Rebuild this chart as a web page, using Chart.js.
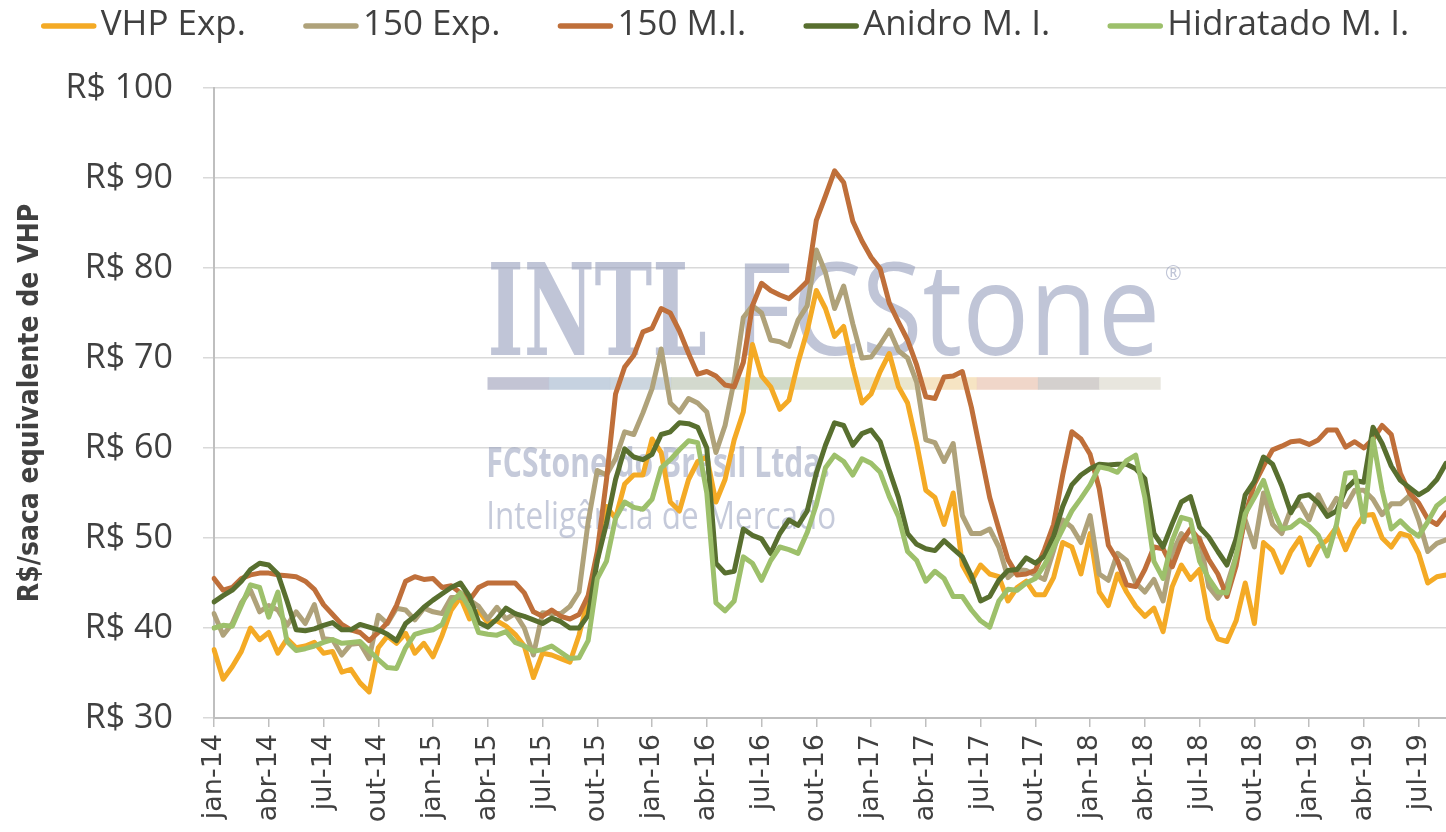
<!DOCTYPE html>
<html>
<head>
<meta charset="utf-8">
<script src="https://cdn.jsdelivr.net/npm/chart.js@4.4.1/dist/chart.umd.min.js"></script>
<style>
  html, body { margin: 0; padding: 0; background: #ffffff; }
  #wrap { width: 1446px; height: 832px; position: relative; }
</style>
</head>
<body>
<div id="wrap"><canvas id="c" width="1446" height="832"></canvas></div>
<script>
// ---- Data (semi-monthly observations, jan-14 .. mid ago-19) ----
const monthNames = ['jan','fev','mar','abr','mai','jun','jul','ago','set','out','nov','dez'];
const tickLabels = ['jan-14','abr-14','jul-14','out-14','jan-15','abr-15','jul-15','out-15',
  'jan-16','abr-16','jul-16','out-16','jan-17','abr-17','jul-17','out-17',
  'jan-18','abr-18','jul-18','out-18','jan-19','abr-19','jul-19'];

const vhpExp = [
  37.6,34.3,35.7,37.4,40,38.7,39.5,37.2,38.8,37.8,38,38.4,
  37.2,37.4,35.1,35.4,33.9,32.9,37.8,39.1,38.3,39.4,37.2,38.3,
  36.8,39.2,42,43.4,41,41.9,40.6,40.8,40.2,39.3,38,34.5,
  37.2,37,36.6,36.2,39.2,43.2,47.5,53.5,52.2,56,57,57,
  61,59.5,54,53,56.5,58.5,59,54,56.5,60.9,64,71.5,
  68,66.8,64.3,65.3,69.5,73,77.5,75.5,72.4,73.5,69,65,
  66,68.5,70.5,66.8,65,60.5,55.3,54.5,51.5,55,47,45.2,
  47,46,45.7,43,44.5,45.2,43.7,43.7,45.6,49.5,49,46,
  50.5,44,42.5,46,44,42.4,41.3,42.2,39.6,44.6,47,45.4,
  46.5,41,38.8,38.5,40.8,45,40.5,49.5,48.6,46.2,48.5,50,
  47,49,49.8,51.2,48.7,51,52.5,52.6,50,49,50.5,50.2,
  48.3,45,45.7,45.9
];
const exp150 = [
  41.6,39.2,40.5,42.8,44.2,41.8,42.5,42,40.3,41.8,40.5,42.6,
  38.8,38.7,37,38.2,38.3,36.6,41.4,40.5,42.2,42,40.9,42.2,
  41.8,41.6,43.4,43.4,43.1,42.4,41,42.3,41,41.6,40,37,
  41.7,41.6,41.6,42.4,44,51.8,57.5,57,58.8,61.8,61.5,63.9,
  66.6,71,65,64,65.5,65,64,59.5,62.5,67.5,74.5,75.8,
  75,72,71.8,71.3,74.2,75.8,82,79.5,75.5,78,73.8,70,
  70.1,71.5,73.1,70.8,70,67.3,60.9,60.6,58.5,60.5,52.5,50.5,
  50.5,51,49,45.6,46.5,46.4,45.9,45.4,48.6,52,51.2,49.5,
  52.5,46,45.3,48.3,47.5,45,44,45.4,43,48.3,50.5,49.6,
  50,44.6,43.3,44.8,48,52,49,55,51.5,50.5,53.2,53.8,
  52,54.8,52.7,54.4,53.5,55.3,55.3,54.3,52.6,53.8,53.8,54.7,
  52,48.5,49.4,49.8
];
const mi150 = [
  45.5,44.2,44.5,45.5,45.9,46.1,46.1,45.9,45.8,45.7,45.2,44.3,
  42.6,41.5,40.4,39.8,39.5,38.6,39.5,40.6,42.5,45.2,45.7,45.4,
  45.5,44.5,44.7,43.9,43.1,44.5,45,45,45,45,43.9,41.8,
  41.3,42,41.3,41,41.5,43.6,48.5,56.4,66,69,70.3,72.9,
  73.3,75.5,75,73,70.5,68.2,68.5,68,67,66.8,69.5,75.8,
  78.3,77.5,77,76.6,77.5,78.5,85.3,88,90.8,89.5,85.2,83,
  81.2,79.9,76.1,74,72,69.2,65.7,65.5,67.9,68,68.5,64.5,
  59.5,54.5,51,47.6,45.9,46,46.4,48.7,51.5,57,61.8,61,
  59.3,55.5,49.2,47.5,44.8,44.6,46.5,49,48.8,46.8,49.5,51,
  49.8,47.6,46,43.5,46.9,52.5,56,58,59.8,60.2,60.7,60.8,
  60.4,60.9,62,62,60.1,60.7,60,61,62.5,61.5,57.2,55,
  53.9,52.1,51.5,52.8
];
const anidroMI = [
  42.9,43.6,44.2,45.2,46.5,47.2,47,46,43,39.8,39.7,39.9,
  40.3,40.6,39.8,39.8,40.4,40.1,39.8,39.3,38.6,40.5,41.3,42.3,
  43.1,43.8,44.5,45,43.5,40.6,40.1,41,42.2,41.6,41.3,40.9,
  40.5,41.1,40.7,40,40,41.4,47.5,51.6,56.5,59.9,59,58.7,
  59.3,61.5,61.8,62.8,62.7,62.3,60,47.2,46.1,46.3,51,50.3,
  49.9,48.3,50.5,52,51.4,53,57.2,60.3,62.8,62.5,60.3,61.6,
  62,60.7,57.5,54.5,50.5,49.3,48.8,48.6,49.7,48.8,47.9,45.8,
  43,43.5,45.3,46.4,46.5,47.8,47.2,48,50.2,53.5,55.9,57,
  57.7,58.2,58.1,58.2,58.2,57.7,56.6,50.5,49,51.6,54,54.6,
  51.2,50.1,48.5,47,49.9,54.8,56.3,59,58.2,55.8,52.8,54.6,
  54.8,53.9,52.4,53,55.4,56.4,56.2,62.3,60.5,58,56.4,55.6,
  54.8,55.4,56.5,58.3
];
const hidratadoMI = [
  40,40.3,40.2,42.5,44.8,44.5,41.2,44,38.5,37.5,37.7,38,
  38.4,38.7,38.3,38.4,38.5,37.5,36.5,35.6,35.5,37.8,39.3,39.6,
  39.8,40.4,42.8,43.9,42.2,39.5,39.3,39.2,39.6,38.4,38,37.4,
  37.6,38,37.3,36.6,36.7,38.6,45.5,47.4,52.2,54,53.4,53.2,
  54.3,57.8,58.7,59.8,60.8,60.6,55,42.8,41.9,43,47.9,47.2,
  45.3,47.5,49,48.7,48.3,50.6,53.7,57.8,59.2,58.5,57,58.8,
  58.3,57.3,54.6,52.4,48.5,47.5,45.2,46.3,45.5,43.5,43.5,42,
  40.8,40.1,43,44.3,44.2,45,45.5,47,49,51,53,54.4,
  55.9,57.9,57.7,57.3,58.6,59.2,54.5,47.4,45.5,49.7,52.3,52,
  47.4,45.5,44,43.9,48,52.7,54.5,56.4,53.3,51,51.2,52,
  51.3,50.3,48,51.5,57.2,57.3,51.8,61,55.3,51,51.9,50.9,
  50.2,51.8,53.6,54.4
];

// categories: two observations per month
const categories = [];
for (let i = 0; i < vhpExp.length; i++) {
  const mIdx = Math.floor(i / 2);
  const yr = 14 + Math.floor(mIdx / 12);
  categories.push(monthNames[mIdx % 12] + '-' + yr + (i % 2 ? ' (2)' : ' (1)'));
}

const seriesNames = ['VHP Exp.', '150 Exp.', '150 M.I.', 'Anidro M. I.', 'Hidratado M. I.'];
const seriesColors = ['#F4AA25', '#AFA27A', '#BF6F3A', '#586F2F', '#9DC06B'];
const seriesData = [vhpExp, exp150, mi150, anidroMI, hidratadoMI];

// ---- custom legend (line + text) ----
const legendPlugin = {
  id: 'lineLegend',
  afterDraw(chart) {
    const ctx = chart.ctx;
    ctx.save();
    ctx.font = '35px "Open Sans"';
    const lineLen = 56, gap = 4, itemGap = 57;
    const items = chart.data.datasets.map(d => ({ label: d.label, color: d.borderColor, w: ctx.measureText(d.label).width }));
    const total = items.reduce((s, it) => s + lineLen + gap + it.w, 0) + itemGap * (items.length - 1);
    let x = (chart.width - total) / 2 + 2;
    for (const it of items) {
      ctx.strokeStyle = it.color;
      ctx.lineWidth = 5.5;
      ctx.lineCap = 'round';
      ctx.beginPath();
      ctx.moveTo(x + 3, 26);
      ctx.lineTo(x + lineLen - 3, 26);
      ctx.stroke();
      ctx.fillStyle = '#404040';
      ctx.textBaseline = 'alphabetic';
      ctx.fillText(it.label, x + lineLen + gap, 35);
      x += lineLen + gap + it.w + itemGap;
    }
    ctx.restore();
  }
};

// ---- watermark ----
const watermarkPlugin = {
  id: 'watermark',
  beforeDatasetsDraw(chart) {
    const ctx = chart.ctx;
    const a = chart.chartArea;
    const fx = f => a.left + f * (a.right - a.left);
    const fy = f => a.top + f * (a.bottom - a.top);
    ctx.save();
    ctx.fillStyle = 'rgba(150,158,188,0.6)';
    ctx.textBaseline = 'alphabetic';
    ctx.font = 'bold 128px "DejaVu Serif"';
    ctx.fillText('INTL', fx(0.222), fy(0.424), fx(0.4) - fx(0.222));
    ctx.font = '128px "Open Sans"';
    ctx.fillText('FCStone', fx(0.422), fy(0.424), fx(0.768) - fx(0.422));
    ctx.font = '20px "Open Sans"';
    ctx.fillText('®', fx(0.772), fy(0.305));
    const segCols = ['#B9BACD','#BCCADB','#C3CFD9','#CBD2C6','#C9D3BE','#D7DCC4','#E6E2C4','#F4DFB8','#EDCFC0','#CCC8C6','#E4E2D8'];
    const bx0 = fx(0.222), bx1 = fx(0.768), by = fy(0.459), bh = fy(0.479) - fy(0.459);
    const sw = (bx1 - bx0) / segCols.length;
    ctx.globalAlpha = 0.85;
    segCols.forEach((c, i) => { ctx.fillStyle = c; ctx.fillRect(bx0 + i * sw, by, sw + 0.5, bh); });
    ctx.globalAlpha = 1;
    ctx.fillStyle = 'rgba(150,158,188,0.55)';
    ctx.font = 'bold 42px "Open Sans"';
    ctx.fillText('FCStone do Brasil Ltda.', fx(0.221), fy(0.618), fx(0.5) - fx(0.221));
    ctx.font = '38px "Open Sans"';
    ctx.fillText('Inteligência de Mercado', fx(0.221), fy(0.700), fx(0.505) - fx(0.221));
    ctx.restore();
  }
};

const ctx = document.getElementById('c').getContext('2d');
new Chart(ctx, {
  type: 'line',
  data: {
    labels: categories,
    datasets: seriesData.map((d, i) => ({
      label: seriesNames[i],
      data: d,
      borderColor: seriesColors[i],
      backgroundColor: seriesColors[i],
      borderWidth: 5,
      pointRadius: 0,
      tension: 0,
      borderJoinStyle: 'round',
      borderCapStyle: 'round',
      order: seriesData.length - i
    }))
  },
  options: {
    responsive: false,
    animation: false,
    events: [],
    layout: { padding: { top: 88, right: 0, bottom: 0, left: 0 } },
    plugins: { legend: { display: false }, tooltip: { enabled: false } },
    scales: {
      x: {
        type: 'category',
        offset: false,
        afterFit: s => { s.height = 114; s.paddingLeft = 0; s.paddingRight = 0; },
        grid: {
          drawOnChartArea: false,
          drawTicks: true,
          tickLength: 9,
          lineWidth: 1.5,
          color: c => (c.index % 6 === 0 ? '#BFBFBF' : 'rgba(0,0,0,0)')
        },
        border: { display: true, color: '#BFBFBF', width: 2 },
        ticks: {
          autoSkip: false,
          maxRotation: 90,
          minRotation: 90,
          padding: 7,
          color: '#404040',
          font: { family: '"DejaVu Sans"', size: 27 },
          callback: (v, i) => (i % 6 === 0 ? tickLabels[i / 6] : '')
        }
      },
      y: {
        min: 30,
        max: 100,
        afterFit: s => { s.width = 214; s.paddingTop = 0; s.paddingBottom = 0; },
        grid: { color: '#D9D9D9', lineWidth: 1.5, tickLength: 11, drawTicks: true },
        border: { display: true, color: '#BFBFBF', width: 2 },
        ticks: {
          stepSize: 10,
          padding: 30,
          color: '#404040',
          font: { family: '"Open Sans"', size: 34 },
          callback: v => 'R$ ' + v
        },
        title: {
          display: true,
          text: 'R$/saca equivalente de VHP',
          color: '#404040',
          font: { family: '"DejaVu Sans Condensed", "Open Sans"', size: 28, weight: 'bold' },
          padding: { top: 14, bottom: 0 }
        }
      }
    }
  },
  plugins: [watermarkPlugin, legendPlugin]
});
</script>
</body>
</html>
